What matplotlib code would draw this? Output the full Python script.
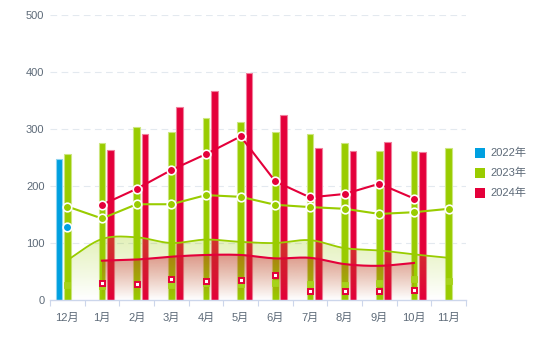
import numpy as np
import matplotlib
matplotlib.use('Agg')
import matplotlib.pyplot as plt
from matplotlib.patches import Rectangle, Polygon

plt.rcParams['font.family'] = ['Liberation Sans', 'Noto Sans CJK SC', 'DejaVu Sans']

# ---------------- data ----------------
categories = ['12月', '1月', '2月', '3月', '4月', '5月', '6月', '7月', '8月', '9月', '10月', '11月']
series_names = ['2022年', '2023年', '2024年']

bar_2022 = [248, None, None, None, None, None, None, None, None, None, None, None]
bar_2023 = [257, 275, 303, 294, 320, 313, 294, 292, 275, 262, 261, 266]
bar_2024 = [None, 264, 292, 339, 366, 399, 324, 266, 262, 278, 259, None]

line_2022 = [128, None, None, None, None, None, None, None, None, None, None, None]
line_2023 = [164, 143, 168, 168, 184, 181, 167, 163, 160, 151, 154, 160]
line_2024 = [None, 167, 195, 228, 256, 287, 208, 180, 186, 204, 178, None]

area_2023 = [70, 107, 110, 100, 106, 102, 100, 105, 91, 87, 80, 74]
area_2024 = [None, 69, 71, 76, 79, 79, 73, 74, 63, 60, 65, None]

square_2023 = [27, 25, 28, 27, 30, 28, 30, 28, 27, 30, 36, 34]
square_2024 = [None, 29, 27.5, 36, 34, 35, 44, 15, 15, 16, 17, None]

y_ticks = [0, 100, 200, 300, 400, 500]

colors = ['#00a0e0', '#99cc00', '#e4003a']
edge_colors = ['#8fd4f0', '#cce680', '#f07f9c']
text_color = '#5d6a78'


def arr(v):
    return np.array([np.nan if a is None else a for a in v], dtype=float)


def smooth(xs, ys, n=24):
    # Catmull-Rom style cubic Hermite curve through the points (drawing only)
    xs = np.asarray(xs, float)
    ys = np.asarray(ys, float)
    m = np.zeros_like(ys)
    for i in range(len(ys)):
        if i == 0:
            m[i] = ys[1] - ys[0]
        elif i == len(ys) - 1:
            m[i] = ys[-1] - ys[-2]
        else:
            m[i] = (ys[i + 1] - ys[i - 1]) / 2.0
    ox, oy = [], []
    for i in range(len(ys) - 1):
        t = np.linspace(0, 1, n, endpoint=False)
        h00 = 2 * t**3 - 3 * t**2 + 1
        h10 = t**3 - 2 * t**2 + t
        h01 = -2 * t**3 + 3 * t**2
        h11 = t**3 - t**2
        oy.extend(h00 * ys[i] + h10 * m[i] + h01 * ys[i + 1] + h11 * m[i + 1])
        ox.extend(xs[i] + t * (xs[i + 1] - xs[i]))
    ox.append(xs[-1])
    oy.append(ys[-1])
    return np.array(ox), np.array(oy)


W, H, DPI = 536, 354, 100
fig = plt.figure(figsize=(W / DPI, H / DPI), dpi=DPI)
ax = fig.add_axes([50 / W, 1 - 300 / H, 416 / W, 285 / H])

x = np.arange(len(categories))
bw = 0.2
off = 0.24

# bars
for vals, o, c, ec in [(bar_2022, -off, colors[0], edge_colors[0]),
                       (bar_2023, 0, colors[1], edge_colors[1]),
                       (bar_2024, off, colors[2], edge_colors[2])]:
    v = arr(vals)
    mask = ~np.isnan(v)
    ax.bar(x[mask] + o, v[mask], width=bw, color=c, edgecolor=ec, linewidth=0.8, zorder=2)


def gradient_area(vals, rgb, a_top, z):
    v = arr(vals)
    mask = ~np.isnan(v)
    xs, ys = smooth(x[mask], v[mask])
    verts = np.column_stack([np.r_[xs, xs[-1], xs[0]], np.r_[ys, 0, 0]])
    poly = Polygon(verts, closed=True, facecolor='none', edgecolor='none')
    ax.add_patch(poly)
    top = ys.max()
    grad = np.zeros((256, 1, 4))
    grad[:, 0, 0] = rgb[0]
    grad[:, 0, 1] = rgb[1]
    grad[:, 0, 2] = rgb[2]
    grad[:, 0, 3] = np.linspace(a_top, 0.0, 256)
    im = ax.imshow(grad, extent=[xs[0], xs[-1], 0, top], origin='upper',
                   aspect='auto', zorder=z, interpolation='bilinear')
    im.set_clip_path(poly)
    return xs, ys


gx, gy = gradient_area(area_2023, (153 / 255, 204 / 255, 0), 0.28, 3)
rx, ry = gradient_area(area_2024, (200 / 255, 20 / 255, 40 / 255), 0.42, 3.1)
ax.plot(gx, gy, color=colors[1], lw=1.3, zorder=4)
ax.plot(rx, ry, color=colors[2], lw=1.5, zorder=4)

# square markers
s23 = arr(square_2023)
m = ~np.isnan(s23)
ax.plot(x[m], s23[m], ls='none', marker='s', ms=4.0, mfc='#a6d21a', mec='#a6d21a', mew=0.6, zorder=5)
s24 = arr(square_2024)
m = ~np.isnan(s24)
ax.plot(x[m], s24[m], ls='none', marker='s', ms=3.6, mfc='white', mec=colors[2], mew=1.4, zorder=5)

# lines with circle markers
for vals, c in [(line_2022, colors[0]), (line_2023, colors[1]), (line_2024, colors[2])]:
    v = arr(vals)
    m = ~np.isnan(v)
    ax.plot(x[m], v[m], color=c, lw=1.5, marker='o', ms=6.2, mfc=c, mec='white', mew=1.2, zorder=6)

# axes styling
ax.set_xlim(-0.5, len(categories) - 0.5)
ax.set_ylim(0, 500)
ax.set_yticks(y_ticks)
ax.set_yticklabels([str(t) for t in y_ticks])
ax.set_xticks(x)
ax.set_xticklabels(categories)
ax.set_xticks(np.arange(-0.5, len(categories), 1.0), minor=True)
ax.tick_params(axis='x', which='major', length=0, pad=9, labelsize=8, labelcolor=text_color)
ax.tick_params(axis='x', which='minor', length=4, width=0.8, color='#ccd6eb')
ax.tick_params(axis='y', length=0, pad=4, labelsize=8, labelcolor=text_color)
for s in ['top', 'right', 'left']:
    ax.spines[s].set_visible(False)
ax.spines['bottom'].set_color('#ccd6eb')
ax.spines['bottom'].set_linewidth(1.0)
ax.spines['bottom'].set_zorder(7)
for t in y_ticks[1:]:
    ax.axhline(t, color='#e3e9ef', lw=0.8, dashes=(6, 4), zorder=1)

# legend (manual)
for i, name in enumerate(series_names):
    cy = 153 + 20 * i
    fig.patches.append(Rectangle((475 / W, 1 - (cy + 5) / H), 10 / W, 10 / H,
                                 transform=fig.transFigure, facecolor=colors[i],
                                 edgecolor='none', figure=fig))
    fig.text(490 / W, 1 - cy / H, name, fontsize=8, color=text_color, va='center', ha='left')

fig.savefig('out.png', dpi=DPI)
